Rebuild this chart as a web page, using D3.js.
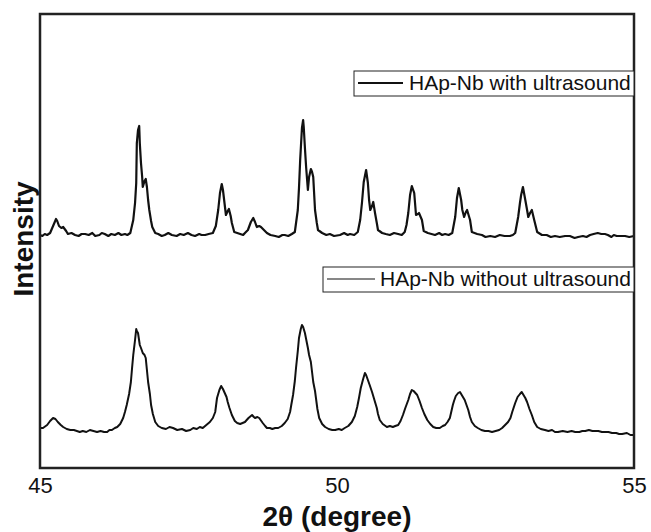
<!DOCTYPE html>
<html>
<head>
<meta charset="utf-8">
<script src="https://cdn.jsdelivr.net/npm/d3@7"></script>
<style>
  body { margin: 0; background: #fff; }
  text { font-family: "Liberation Sans", Arial, sans-serif; fill: #111; }
</style>
</head>
<body>
<svg id="chart" width="651" height="532"></svg>
<script>
// 2theta (degree) and intensity (a.u., offset as plotted)
var withUltrasound = [
  [45.00,233],[45.04,232],[45.08,234],[45.12,233],[45.17,235],[45.22,242],[45.27,249],[45.29,247],
  [45.32,242],[45.36,240],[45.39,241],[45.44,237],[45.47,234],[45.53,235],[45.59,233],[45.65,232],
  [45.70,234],[45.76,234],[45.82,233],[45.88,235],[45.93,232],[46.00,233],[46.04,235],[46.09,234],
  [46.15,232],[46.20,234],[46.26,233],[46.32,235],[46.37,233],[46.43,234],[46.47,233],[46.52,235],
  [46.57,248],[46.60,265],[46.62,285],[46.63,325],[46.65,338],[46.67,342],[46.68,325],[46.70,305],
  [46.72,291],[46.73,281],[46.76,287],[46.78,289],[46.80,281],[46.82,268],[46.84,258],[46.87,247],
  [46.89,241],[46.94,235],[46.99,234],[47.05,232],[47.10,233],[47.16,235],[47.22,233],[47.30,232],
  [47.36,234],[47.42,233],[47.49,235],[47.55,233],[47.61,232],[47.68,234],[47.72,233],[47.78,233],
  [47.84,234],[47.91,235],[47.96,242],[48.00,258],[48.03,275],[48.06,284],[48.08,278],[48.10,268],
  [48.13,253],[48.16,257],[48.18,259],[48.21,252],[48.23,245],[48.27,236],[48.32,235],[48.37,234],
  [48.42,233],[48.45,235],[48.50,238],[48.55,246],[48.59,250],[48.62,246],[48.65,241],[48.69,242],
  [48.72,241],[48.77,238],[48.82,235],[48.88,233],[48.96,232],[49.02,231],[49.08,233],[49.12,233],
  [49.18,232],[49.24,234],[49.29,236],[49.34,258],[49.36,280],[49.38,308],[49.41,340],[49.43,348],
  [49.44,341],[49.46,320],[49.48,301],[49.51,278],[49.53,291],[49.56,299],[49.58,296],[49.60,291],
  [49.63,258],[49.66,245],[49.68,238],[49.75,235],[49.82,233],[49.88,234],[49.95,232],[50.05,233],
  [50.12,235],[50.18,233],[50.22,234],[50.29,233],[50.35,236],[50.39,248],[50.42,265],[50.45,286],
  [50.49,298],[50.52,285],[50.54,268],[50.56,258],[50.59,262],[50.61,266],[50.64,255],[50.67,245],
  [50.69,238],[50.76,235],[50.82,234],[50.89,233],[50.96,235],[51.03,234],[51.09,233],[51.14,236],
  [51.17,243],[51.20,255],[51.23,273],[51.26,282],[51.30,275],[51.33,253],[51.36,254],[51.38,255],
  [51.43,248],[51.46,237],[51.53,235],[51.59,234],[51.65,233],[51.72,235],[51.77,233],[51.82,234],
  [51.88,233],[51.94,235],[51.99,251],[52.02,270],[52.05,280],[52.09,268],[52.11,258],[52.14,251],
  [52.17,256],[52.19,258],[52.24,248],[52.27,236],[52.36,234],[52.44,233],[52.50,231],[52.58,232],
  [52.66,231],[52.74,233],[52.82,232],[52.91,232],[52.96,233],[53.00,235],[53.05,251],[53.08,265],
  [53.10,273],[53.13,281],[53.17,268],[53.20,258],[53.22,251],[53.25,255],[53.28,258],[53.32,248],
  [53.37,236],[53.45,233],[53.53,233],[53.60,231],[53.67,232],[53.75,231],[53.84,232],[53.92,232],
  [54.00,230],[54.06,231],[54.14,232],[54.20,231],[54.26,233],[54.32,234],[54.39,235],[54.45,234],
  [54.51,234],[54.56,233],[54.62,231],[54.66,233],[54.71,232],[54.78,232],[54.85,232],[54.92,231],
  [55.00,232]
];

var withoutUltrasound = [
  [45.00,40],[45.05,40],[45.12,43],[45.17,47],[45.22,50],[45.26,49],[45.30,46],[45.35,43],
  [45.39,41],[45.45,39],[45.51,38],[45.57,38],[45.62,37],[45.67,36],[45.72,37],[45.78,36],
  [45.84,38],[45.90,37],[45.96,36],[46.02,37],[46.08,36],[46.13,36],[46.17,38],[46.21,38],
  [46.26,40],[46.30,41],[46.35,44],[46.40,50],[46.43,56],[46.46,63],[46.50,74],[46.53,86],
  [46.55,100],[46.57,113],[46.60,128],[46.62,139],[46.63,137],[46.65,135],[46.68,123],[46.70,120],
  [46.73,115],[46.76,113],[46.78,110],[46.80,98],[46.82,86],[46.85,74],[46.87,63],[46.90,54],
  [46.94,46],[46.99,42],[47.05,40],[47.12,39],[47.18,41],[47.24,40],[47.31,38],[47.39,39],
  [47.46,37],[47.53,38],[47.58,40],[47.64,39],[47.69,41],[47.74,40],[47.80,43],[47.86,46],
  [47.91,50],[47.95,56],[47.98,70],[48.02,78],[48.05,82],[48.08,79],[48.11,75],[48.14,71],
  [48.16,66],[48.19,60],[48.23,53],[48.28,47],[48.32,45],[48.37,44],[48.41,45],[48.45,46],
  [48.51,50],[48.57,53],[48.60,51],[48.62,50],[48.66,51],[48.69,50],[48.75,45],[48.79,42],
  [48.82,40],[48.87,40],[48.91,39],[48.96,40],[49.01,40],[49.07,42],[49.12,45],[49.17,49],
  [49.21,56],[49.23,63],[49.26,73],[49.29,87],[49.31,100],[49.34,117],[49.36,130],[49.39,139],
  [49.41,143],[49.43,141],[49.46,135],[49.48,129],[49.51,120],[49.53,113],[49.56,106],[49.58,96],
  [49.60,86],[49.63,77],[49.65,68],[49.67,59],[49.70,50],[49.75,44],[49.80,41],[49.86,39],
  [49.92,38],[49.97,38],[50.03,39],[50.08,38],[50.13,40],[50.19,42],[50.25,46],[50.30,52],
  [50.34,61],[50.37,70],[50.40,80],[50.44,89],[50.47,95],[50.49,93],[50.52,88],[50.55,83],
  [50.59,76],[50.63,68],[50.67,60],[50.69,54],[50.72,48],[50.77,44],[50.84,41],[50.89,42],
  [50.94,41],[50.98,42],[51.03,43],[51.07,47],[51.11,53],[51.15,60],[51.20,68],[51.23,74],
  [51.26,78],[51.29,77],[51.32,75],[51.35,73],[51.39,67],[51.43,60],[51.47,54],[51.52,48],
  [51.57,44],[51.62,41],[51.67,40],[51.73,40],[51.78,42],[51.82,43],[51.86,46],[51.90,50],
  [51.95,63],[51.97,67],[52.00,72],[52.04,75],[52.07,76],[52.11,72],[52.15,68],[52.18,63],
  [52.21,58],[52.24,51],[52.27,46],[52.32,42],[52.37,40],[52.43,38],[52.49,37],[52.55,37],
  [52.61,36],[52.67,37],[52.73,38],[52.78,40],[52.83,43],[52.88,46],[52.92,50],[52.95,56],
  [53.00,65],[53.04,71],[53.08,74],[53.11,76],[53.14,73],[53.17,70],[53.20,66],[53.24,59],
  [53.28,53],[53.32,46],[53.37,41],[53.43,39],[53.50,38],[53.56,37],[53.62,38],[53.67,36],
  [53.72,36],[53.80,37],[53.88,36],[53.95,37],[54.01,36],[54.08,36],[54.13,37],[54.18,37],
  [54.24,38],[54.30,37],[54.34,37],[54.40,37],[54.46,36],[54.51,36],[54.57,36],[54.63,35],
  [54.70,35],[54.75,34],[54.80,34],[54.88,35],[54.94,33],[55.00,33]
];

var xTicks = [45, 50, 55];
var seriesNames = ["HAp-Nb with ultrasound", "HAp-Nb without ultrasound"];

const svg = d3.select('#chart');
const margin = { top: 14, left: 40, right: 17, bottom: 64 },
    width = 651 - margin.left - margin.right,
    height = 532 - margin.top - margin.bottom;

const g = svg.append('g')
    .attr('transform', 'translate(' + margin.left + ',' + margin.top + ')');

const x = d3.scaleLinear().domain([45, 55]).range([0, width]);
const y = d3.scaleLinear().domain([0, 454]).range([height, 0]);

const line = d3.line()
    .x(d => x(d[0]))
    .y(d => y(d[1]));

// traces
g.append('path')
    .datum(withUltrasound)
    .attr('d', line)
    .attr('fill', 'none')
    .attr('stroke', '#111')
    .attr('stroke-width', 2.2)
    .attr('stroke-linejoin', 'round');

g.append('path')
    .datum(withoutUltrasound)
    .attr('d', line)
    .attr('fill', 'none')
    .attr('stroke', '#111')
    .attr('stroke-width', 2)
    .attr('stroke-linejoin', 'round');

// frame
g.append('rect')
    .attr('width', width)
    .attr('height', height)
    .attr('fill', 'none')
    .attr('stroke', '#222')
    .attr('stroke-width', 2.5);

// x axis labels (no tick marks)
var xAxis = g.append('g')
    .attr('transform', 'translate(0,' + height + ')')
    .call(d3.axisBottom(x).tickValues(xTicks).tickSize(0).tickPadding(9));
xAxis.select('.domain').remove();
xAxis.selectAll('text')
    .style('font-size', '22px')
    .style('font-family', '"Liberation Sans", Arial, sans-serif')
    .attr('fill', '#222');

svg.append('text')
    .attr('x', margin.left + width / 2)
    .attr('y', 526)
    .attr('text-anchor', 'middle')
    .style('font-size', '28px')
    .style('font-weight', 'bold')
    .text('2θ (degree)');

svg.append('text')
    .attr('transform', 'translate(33,' + 239 + ') rotate(-90)')
    .attr('text-anchor', 'middle')
    .style('font-size', '28px')
    .style('font-weight', 'bold')
    .text('Intensity');

// legends
var legends = [
  { name: seriesNames[0], x0: 314, top: 57, lw: 2, lx: 49, tx: 55 },
  { name: seriesNames[1], x0: 283, top: 253, lw: 1.2, lx: 52, tx: 57 }
];
legends.forEach(function(l) {
    var lg = g.append('g').attr('transform', 'translate(' + l.x0 + ',' + l.top + ')');
    lg.append('rect')
        .attr('width', width - l.x0)
        .attr('height', 25)
        .attr('fill', '#fff')
        .attr('stroke', '#222')
        .attr('stroke-width', 1);
    lg.append('line')
        .attr('x1', 4).attr('x2', l.lx)
        .attr('y1', 12).attr('y2', 12)
        .attr('stroke', '#111')
        .attr('stroke-width', l.lw);
    lg.append('text')
        .attr('x', l.tx)
        .attr('y', 19)
        .style('font-size', '21px')
        .text(l.name);
});
</script>
</body>
</html>
